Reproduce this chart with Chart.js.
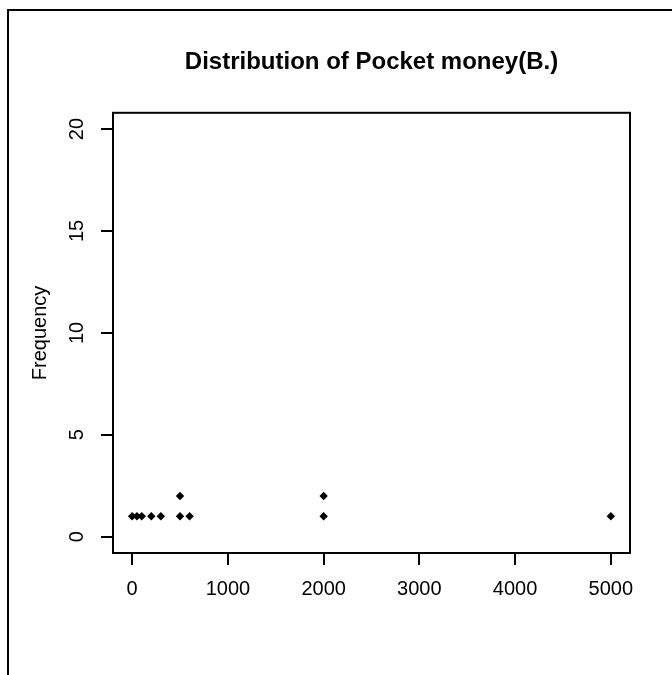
<!DOCTYPE html>
<html>
<head>
<meta charset="utf-8">
<script src="https://cdn.jsdelivr.net/npm/chart.js@4/dist/chart.umd.min.js"></script>
<style>
  html, body { margin: 0; padding: 0; background: #fff; }
  #wrap { width: 672px; height: 675px; }
</style>
</head>
<body>
<div id="wrap"><canvas id="chart" width="672" height="675"></canvas></div>
<script>
// pocket money (B.) and how often it occurs
const money = [0, 50, 100, 200, 300, 500, 500, 600, 2000, 2000, 5000];
const freq  = [1, 1, 1, 1, 1, 1, 2, 1, 1, 2, 1];
const xTicks = [0, 1000, 2000, 3000, 4000, 5000];
const yTicks = [0, 5, 10, 15, 20];

const FONT = 'Liberation Sans, Arial, Helvetica, sans-serif';

// outer frame (top + left) and the plot box, R style
const framePlugin = {
  id: 'frame',
  beforeDraw(chart) {
    const ctx = chart.ctx;
    ctx.save();
    ctx.fillStyle = '#fff';
    ctx.fillRect(0, 0, chart.width, chart.height);
    ctx.strokeStyle = '#000';
    ctx.lineWidth = 2;
    ctx.beginPath();
    ctx.moveTo(8, chart.height);
    ctx.lineTo(8, 10);
    ctx.lineTo(chart.width, 10);
    ctx.stroke();
    ctx.restore();
  },
  afterDraw(chart) {
    const a = chart.chartArea;
    const ctx = chart.ctx;
    ctx.save();
    ctx.strokeStyle = '#000';
    ctx.lineWidth = 2;
    ctx.strokeRect(a.left, a.top, a.right - a.left, a.bottom - a.top);
    ctx.restore();
  }
};

const points = money.map((m, i) => ({ x: m, y: freq[i] }));

new Chart(document.getElementById('chart'), {
  type: 'scatter',
  data: {
    datasets: [{
      data: points,
      pointStyle: 'rectRot',
      pointRadius: 4.2,
      pointBorderWidth: 0,
      pointBackgroundColor: '#000',
      pointBorderColor: '#000'
    }]
  },
  options: {
    responsive: false,
    animation: false,
    layout: { padding: { top: 0, left: 0, right: 42, bottom: 62 } },
    plugins: {
      legend: { display: false },
      tooltip: { enabled: false },
      title: {
        display: true,
        fullSize: false,
        text: 'Distribution of Pocket money(B.)',
        color: '#000',
        font: { family: FONT, size: 24, weight: 'bold' },
        padding: { top: 48, bottom: 36 }
      }
    },
    scales: {
      x: {
        type: 'linear',
        min: -200,
        max: 5200,
        afterBuildTicks: s => { s.ticks = xTicks.map(v => ({ value: v })); },
        afterFit: s => { s.height = 60; },
        border: { display: false },
        grid: { drawOnChartArea: false, drawTicks: true, tickLength: 12, color: '#000', lineWidth: 2 },
        ticks: {
          color: '#000',
          font: { family: FONT, size: 20 },
          padding: 12,
          maxRotation: 0,
          callback: v => String(v)
        }
      },
      y: {
        type: 'linear',
        min: -0.8,
        max: 20.8,
        afterBuildTicks: s => { s.ticks = yTicks.map(v => ({ value: v })); },
        afterFit: s => { s.width = 113; },
        border: { display: false },
        grid: { drawOnChartArea: false, drawTicks: true, tickLength: 12, color: '#000', lineWidth: 2 },
        ticks: {
          color: '#000',
          font: { family: FONT, size: 20 },
          padding: 12,
          minRotation: 90,
          maxRotation: 90,
          crossAlign: 'center',
          callback: v => String(v)
        },
        title: {
          display: true,
          text: 'Frequency',
          color: '#000',
          font: { family: FONT, size: 20 },
          padding: { top: 28, bottom: 0 }
        }
      }
    }
  },
  plugins: [framePlugin]
});
</script>
</body>
</html>
